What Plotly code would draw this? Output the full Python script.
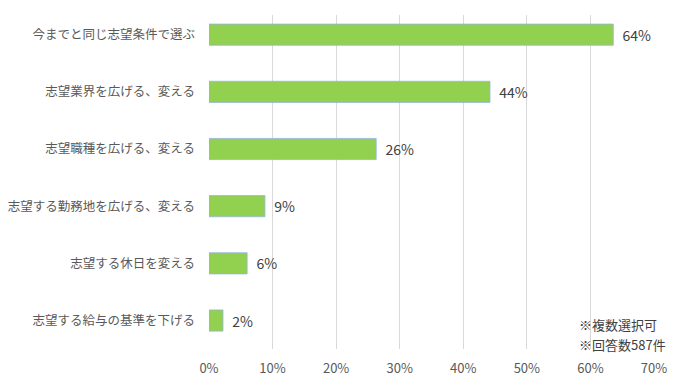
import plotly.graph_objects as go

categories = [
    "今までと同じ志望条件で選ぶ",
    "志望業界を広げる、変える",
    "志望職種を広げる、変える",
    "志望する勤務地を広げる、変える",
    "志望する休日を変える",
    "志望する給与の基準を下げる",
]
values = [63.6, 44.2, 26.3, 8.8, 6.0, 2.2]
value_labels = ["64%", "44%", "26%", "9%", "6%", "2%"]
tick_vals = [0, 10, 20, 30, 40, 50, 60, 70]
tick_text = ["0%", "10%", "20%", "30%", "40%", "50%", "60%", "70%"]
note_lines = ["※複数選択可", "※回答数587件"]

FONT = "Noto Sans CJK JP"

fig = go.Figure(
    go.Bar(
        x=values,
        y=categories,
        orientation="h",
        width=0.37,
        marker=dict(color="#92D050", line=dict(color="rgba(150,180,225,0.8)", width=1)),
        text=["  " + t for t in value_labels],
        textposition="outside",
        textfont=dict(family=FONT, size=14, color="#404040"),
        cliponaxis=False,
    )
)

L, R, T, B = 209, 46, 15, 38
plot_w = 700 - L - R
plot_h = 387 - T - B

fig.update_layout(
    width=700,
    height=387,
    margin=dict(l=L, r=R, t=T, b=B, autoexpand=False),
    paper_bgcolor="white",
    plot_bgcolor="white",
    showlegend=False,
    font=dict(family=FONT, size=13, color="#595959"),
    xaxis=dict(
        range=[0, 70],
        tickvals=tick_vals,
        ticktext=tick_text,
        showgrid=True,
        gridcolor="#D9D9D9",
        gridwidth=1,
        zeroline=False,
        showline=False,
        automargin=False,
        tickfont=dict(family=FONT, size=13, color="#595959"),
        ticklabelstandoff=10,
    ),
    yaxis=dict(
        range=[5.498, -0.344],
        showgrid=False,
        zeroline=False,
        showline=False,
        automargin=False,
        ticks="",
        tickfont=dict(family=FONT, size=12.5, color="#595959"),
        ticklabelstandoff=13,
    ),
    annotations=[
        dict(
            text=line,
            x=(577 - L) / plot_w,
            y=(349 - yc) / plot_h,
            xref="paper",
            yref="paper",
            showarrow=False,
            xanchor="left",
            yanchor="middle",
            font=dict(family=FONT, size=13, color="#404040"),
        )
        for line, yc in zip(note_lines, [324, 344])
    ],
)

fig.write_html("out.html")
